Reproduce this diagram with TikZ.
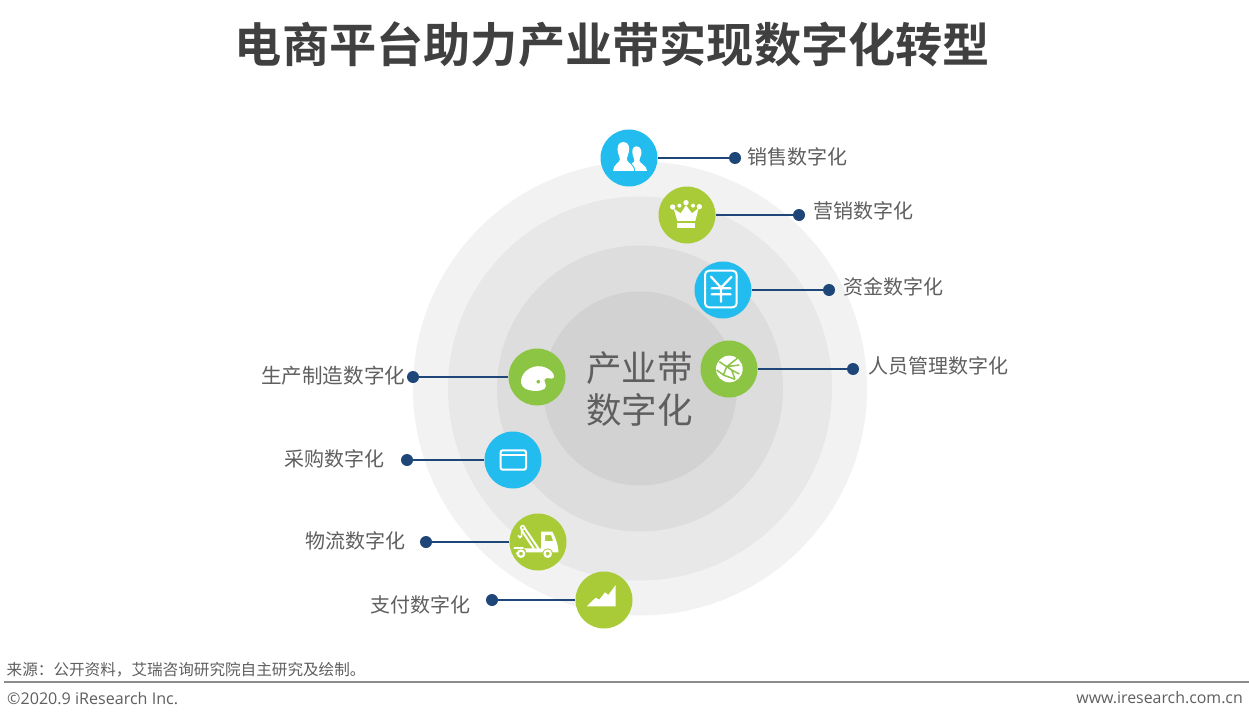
\documentclass[tikz,border=0pt]{standalone}
\usepackage{fontspec}
\setmainfont{Noto Sans CJK SC}
\newfontfamily\cjkb{Noto Sans CJK SC Bold}
\newfontfamily\latin{Open Sans}
\definecolor{ring1}{HTML}{F2F2F2}
\definecolor{ring2}{HTML}{E8E8E8}
\definecolor{ring3}{HTML}{DDDDDD}
\definecolor{ring4}{HTML}{D2D2D2}
\definecolor{cblue}{HTML}{22BDEE}
\definecolor{clime}{HTML}{A9CB37}
\definecolor{cgreen}{HTML}{8CC444}
\definecolor{navy}{HTML}{1F4678}
\definecolor{txt}{HTML}{5F5F5F}
\definecolor{ttl}{HTML}{404040}
\tikzset{
  x=1pt,y=-1pt,
  ringdisc/.style={circle,inner sep=0pt,minimum size=#1},
  iconball/.style={circle,inner sep=0pt,minimum size=57pt,fill=#1},
  enddot/.style={circle,inner sep=0pt,minimum size=12pt,fill=navy},
  leader/.style={draw=navy,line width=1.8pt},
  lab/.style={inner sep=0pt,text=txt,font=\fontsize{20}{24}\selectfont},
  iconline/.style={draw=white,line width=#1,line cap=round,line join=round},
  zoomed/.style={shift={#1},scale=1/3}
}
\begin{document}
\begin{tikzpicture}
\useasboundingbox (0,0) rectangle (1249,722);
\fill[white] (0,0) rectangle (1249,722);
% rings
\node[ringdisc=454pt,fill=ring1] (r1) at (640,388.5) {};
\node[ringdisc=384pt,fill=ring2] (r2) at (640,388.5) {};
\node[ringdisc=286pt,fill=ring3] (r3) at (640,388.5) {};
\node[ringdisc=194pt,fill=ring4] (r4) at (640,388.5) {};
% title and centre
\node[inner sep=0pt,text=ttl,font=\cjkb\fontsize{47.2}{56}\selectfont] (title) at (612.5,44) {电商平台助力产业带实现数字化转型};
\node[inner sep=0pt,text=txt,align=center,font=\fontsize{35.5}{42}\selectfont] (centre) at (639.5,389) {产业带\\[-0.5pt]数字化};
% icon balls
\node[iconball=cblue] (i1) at (629,158) {};
\node[iconball=clime] (i2) at (687,215) {};
\node[iconball=cblue] (i3) at (723,290) {};
\node[iconball=cgreen] (i4) at (729,369) {};
\node[iconball=cgreen] (i5) at (537,377) {};
\node[iconball=cblue] (i6) at (513,460) {};
\node[iconball=clime] (i7) at (538,542) {};
\node[iconball=clime] (i8) at (604,600) {};
% dots
\node[enddot] (d1) at (735,158) {};
\node[enddot] (d2) at (799,215) {};
\node[enddot] (d3) at (829,290) {};
\node[enddot] (d4) at (853,369) {};
\node[enddot] (d5) at (413,377) {};
\node[enddot] (d6) at (407,460) {};
\node[enddot] (d7) at (426,542) {};
\node[enddot] (d8) at (492,600) {};
\foreach \n in {1,...,8} \draw[leader] (i\n) -- (d\n);
% labels
\node[lab,anchor=west] (l1) at (747,157) {销售数字化};
\node[lab,anchor=west] (l2) at (813,211) {营销数字化};
\node[lab,anchor=west] (l3) at (843,287) {资金数字化};
\node[lab,anchor=west] (l4) at (868,366) {人员管理数字化};
\node[lab,anchor=east,font=\fontsize{20.6}{24}\selectfont] (l5) at (405.5,376) {生产制造数字化};
\node[lab,anchor=east] (l6) at (385,459) {采购数字化};
\node[lab,anchor=east] (l7) at (406,541) {物流数字化};
\node[lab,anchor=east] (l8) at (471,605) {支付数字化};
% people icon
\begin{scope}[zoomed={(590,120)}]
\fill[white] (100,66) .. controls (84,66) and (80,82) .. (84,98) .. controls (86,108) and (90,112) .. (90,118) .. controls (88,130) and (70,132) .. (69,153) -- (132,153) .. controls (132,132) and (112,130) .. (110,118) .. controls (110,112) and (114,108) .. (116,98) .. controls (120,82) and (116,66) .. (100,66) -- cycle;
\fill[white] (139,79) .. controls (128,79) and (125,92) .. (128,104) .. controls (130,112) and (133,116) .. (133,122) .. controls (133,127) and (128,129) .. (125,130) .. controls (132,136) and (136,144) .. (136,153) -- (171,153) .. controls (171,136) and (150,132) .. (148,122) .. controls (148,116) and (152,112) .. (154,102) .. controls (156,90) and (150,79) .. (139,79) -- cycle;
% crown
\fill[white] (262,308) rectangle (316,323);
\fill[white] (262,303) -- (251,266) -- (272,280) -- (288,256) -- (306,280) -- (326,264) -- (316,303) -- cycle;
\fill[white] (248,261) circle (8) (288,248) circle (8) (328,260) circle (8) (268,257) circle (6) (309,257) circle (6);
\end{scope}
% yen icon
\begin{scope}[zoomed={(680,250)}]
\draw[iconline=2pt,rounded corners=4] (75,62) rectangle (170,172);
\draw[iconline=2.2pt] (93,80) -- (123,113) -- (155,80) (123,113) -- (123,155) (95,115) -- (152,115) (95,133) -- (152,133);
% globe
\fill[white] (148,357) circle (40);
\draw[draw=cgreen,line width=1.5pt] (118,335) -- (140,350) -- (172,325) (140,350) -- (130,375) -- (110,360) (140,350) -- (178,345) (130,375) -- (165,388) (155,360) -- (140,350) (155,360) -- (178,372) (155,360) -- (165,388);
\end{scope}
% palette, window
\begin{scope}[zoomed={(470,340)}]
\fill[white,even odd rule] (153,122) .. controls (156,90) and (195,70) .. (225,82) .. controls (240,88) and (254,100) .. (252,112) .. controls (246,122) and (230,108) .. (224,118) .. controls (220,128) and (234,134) .. (224,146) .. controls (210,156) and (185,154) .. (170,148) .. controls (160,144) and (152,134) .. (153,122) -- cycle (205,125) circle (6);
\draw[iconline=2pt,rounded corners=2] (92,331) rectangle (168,389);
\draw[iconline=1.6pt] (93,345) -- (167,345);
\end{scope}
% truck, chart
\begin{scope}[zoomed={(495,505)}]
\fill[white,even odd rule] (138,80) -- (172,80) .. controls (180,95) and (188,115) .. (190,135) -- (190,142) -- (174,142) .. controls (170,126) and (146,126) .. (142,142) -- (94,142) .. controls (94,136) and (90,132) .. (86,130) -- (138,130) -- cycle (150,90) -- (168,90) -- (174,108) -- (150,108) -- cycle;
\fill[white,even odd rule] (78,146) circle (13) (78,146) circle (6);
\fill[white,even odd rule] (158,146) circle (13) (158,146) circle (6);
\draw[iconline=2pt] (88,68) -- (130,130) (80,76) -- (116,130);
\draw[iconline=1.5pt] (83,68) circle (6);
\draw[iconline=1.6pt] (80,74) -- (80,92) .. controls (80,100) and (70,100) .. (70,92);
\draw[iconline=1.8pt] (58,130) -- (84,130);
\fill[white] (66,145) circle (4);
\fill[white] (275,304) -- (302,278) -- (313,284) -- (330,262) -- (340,270) -- (362,240) -- (362,304) -- cycle;
\end{scope}
% footer
\node[inner sep=0pt,anchor=west,text=txt,font=\fontsize{15.6}{18}\selectfont] (src) at (6.5,670) {来源：公开资料，艾瑞咨询研究院自主研究及绘制。};
\coordinate (ruleA) at (4,682);
\coordinate (ruleB) at (1249,682);
\draw[draw=gray!90,line width=1.6pt] (ruleA) -- (ruleB);
\node[inner sep=0pt,anchor=west,text=txt,font=\latin\fontsize{16.1}{18}\selectfont] (copy) at (7,698) {©2020.9 iResearch Inc.};
\node[inner sep=0pt,anchor=east,text=txt,font=\latin\fontsize{15.9}{18}\selectfont] (web) at (1243,698) {www.iresearch.com.cn};
\end{tikzpicture}
\end{document}
